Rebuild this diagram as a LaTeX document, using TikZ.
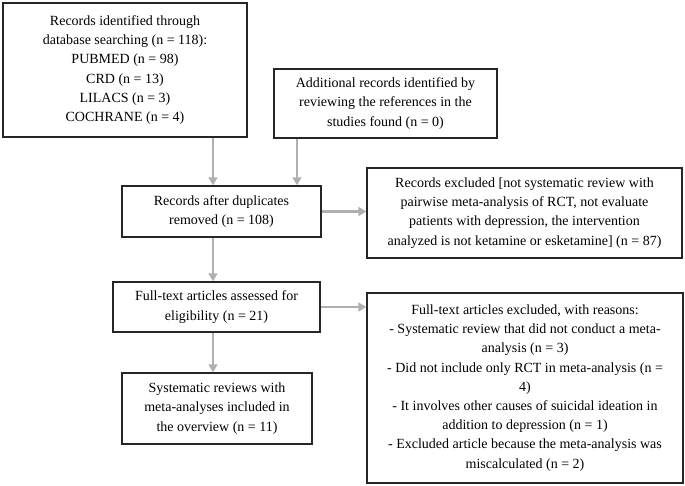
\documentclass[tikz,border=0pt]{standalone}
\usepackage{fontspec}
\setmainfont{Liberation Serif}
\usetikzlibrary{arrows.meta}
\definecolor{arrgray}{HTML}{B0B0B0}
\begin{document}
\begin{tikzpicture}[x=1pt,y=-1pt,
        every node/.style={draw=black!85,line width=1.4pt,align=center,inner sep=0pt,
            font=\fontsize{14}{19.2}\selectfont},
        arr/.style={draw=arrgray,line width=2.2pt,-{Triangle[length=8pt,width=9pt]}}]
            \useasboundingbox (0,0) rectangle (685,485);
            \node[minimum width=244pt,minimum height=134pt] (id) at (125,70)
                {Records identified through\\database searching (n = 118):\\PUBMED (n = 98)\\CRD (n = 13)\\LILACS (n = 3)\\COCHRANE (n = 4)};
            \node[minimum width=223pt,minimum height=69pt] (add) at (385.5,103.5)
                {Additional records identified by\\reviewing the references in the\\studies found (n = 0)};
            \node[minimum width=199pt,minimum height=51pt] (dup) at (221.5,211.5)
                {Records after duplicates\\removed (n = 108)};
            \node[minimum width=315pt,minimum height=90pt] (excl) at (524.5,213)
                {Records excluded [not systematic review with\\pairwise meta-analysis of RCT, not evaluate\\patients with depression, the intervention\\analyzed is not ketamine or esketamine] (n = 87)};
            \node[minimum width=207pt,minimum height=50pt] (full) at (216.5,307)
                {Full-text articles assessed for\\eligibility (n = 21)};
            \node[minimum width=316pt,minimum height=190pt] (fexcl) at (525,388)
                {Full-text articles excluded, with reasons:\\- Systematic review that did not conduct a meta-\\analysis (n = 3)\\- Did not include only RCT in meta-analysis (n =\\4)\\- It involves other causes of suicidal ideation in\\addition to depression (n = 1)\\- Excluded article because the meta-analysis was\\miscalculated (n = 2)};
            \node[minimum width=190pt,minimum height=71pt] (incl) at (217,408.5)
                {Systematic reviews with\\meta-analyses included in\\the overview (n = 11)};
            \coordinate (in1) at ([xshift=-8.5pt]dup.north);
            \coordinate (in2) at ([xshift=75.5pt]dup.north);
            \coordinate (out1) at ([xshift=-8.5pt]dup.south);
            \coordinate (out2) at ([xshift=-3.5pt]full.south);
            \draw[arr] (id.south -| in1) -- (in1);
            \draw[arr] (add.south -| in2) -- (in2);
            \draw[arr] (dup.east) -- (dup.east -| excl.west);
            \draw[arr] (out1) -- (out1 |- full.north);
            \draw[arr] (full.east) -- (full.east -| fexcl.west);
            \draw[arr] (out2) -- (out2 |- incl.north);
        \end{tikzpicture}
\end{document}
